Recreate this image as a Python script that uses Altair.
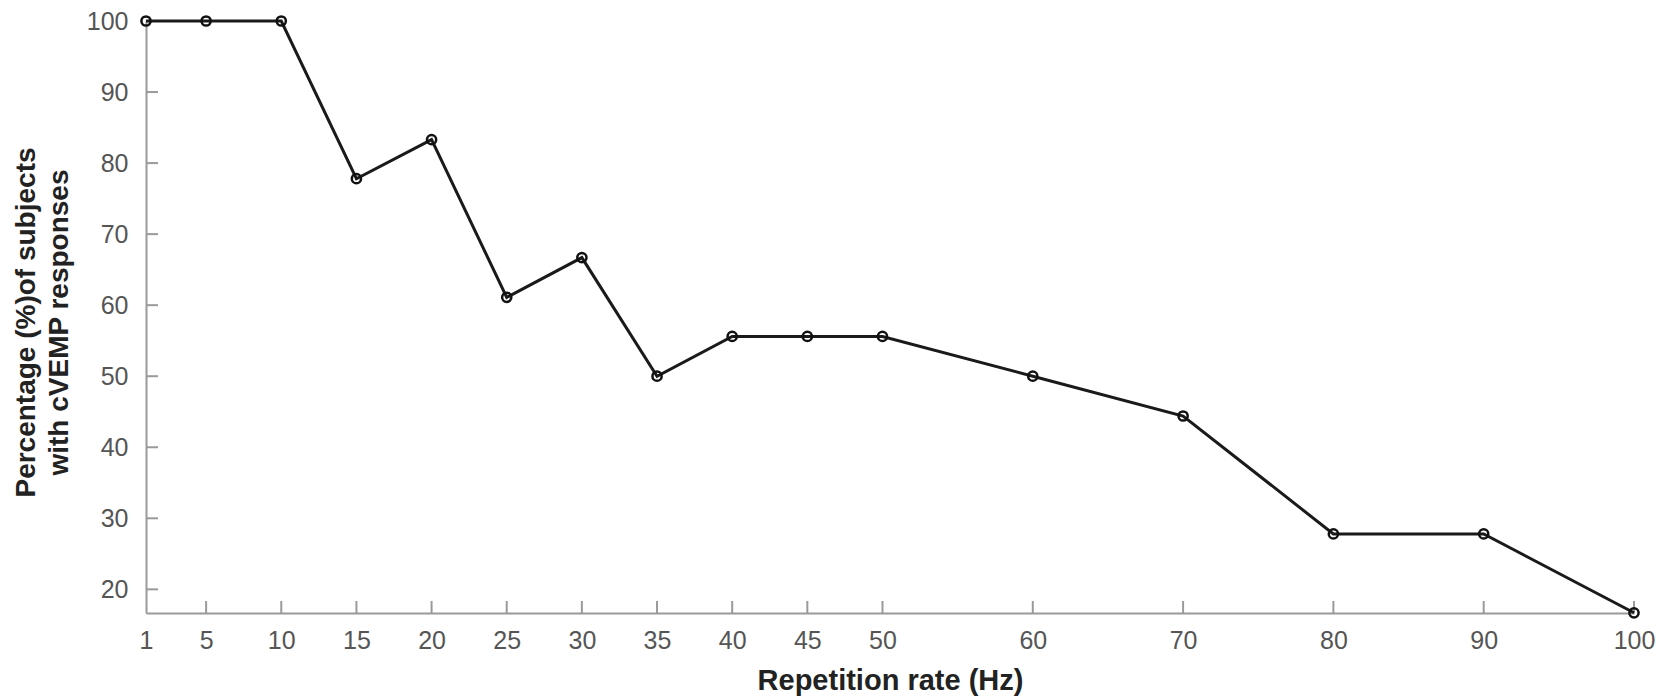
import altair as alt
import pandas as pd

rates = [1, 5, 10, 15, 20, 25, 30, 35, 40, 45, 50, 60, 70, 80, 90, 100]
percent = [100, 100, 100, 77.8, 83.3, 61.1, 66.7, 50.0, 55.6, 55.6, 55.6, 50.0, 44.4, 27.8, 27.8, 16.7]
x_ticks = [1, 5, 10, 15, 20, 25, 30, 35, 40, 45, 50, 60, 70, 80, 90, 100]
y_ticks = [20, 30, 40, 50, 60, 70, 80, 90, 100]

W, H = 1488, 592
FONT = "Liberation Sans"

df = pd.DataFrame({"rate": rates, "pct": percent})
xt = pd.DataFrame({"t": x_ticks[1:]})
yt = pd.DataFrame({"t": y_ticks[:-1]})

xscale = alt.Scale(domain=[1, 100], nice=False, zero=False)
yscale = alt.Scale(domain=[16.67, 100], nice=False, zero=False)

xaxis = alt.Axis(
    values=x_ticks, ticks=False, tickSize=0, grid=False, domainColor="#9a9a9a", domainWidth=2,
    labelFont=FONT, labelFontSize=25, labelColor="#555555", labelPadding=15,
    title="Repetition rate (Hz)", titleFont=FONT, titleFontSize=29, titleFontWeight="bold",
    titleColor="#222222", titleBaseline="alphabetic", titleY=76, labelFlush=False,
)
yaxis = alt.Axis(
    values=y_ticks, ticks=False, tickSize=0, grid=False, domainColor="#9a9a9a", domainWidth=2,
    labelFont=FONT, labelFontSize=25, labelColor="#555555", labelPadding=18,
    title=["Percentage (%)of subjects", "with cVEMP responses"], titleFont=FONT,
    titleFontSize=28, titleFontWeight="bold", titleColor="#222222", titleAngle=-90,
    titleBaseline="alphabetic", titleAlign="center", titleX=-112, titleY=H / 2 + 5,
    titleLineHeight=33, labelFlush=False,
)

base = alt.Chart(df)
line = base.mark_line(color="#1a1a1a", strokeWidth=3).encode(
    x=alt.X("rate:Q", scale=xscale, axis=xaxis),
    y=alt.Y("pct:Q", scale=yscale, axis=yaxis),
)
pts = base.mark_point(filled=False, color="#111111", size=85, strokeWidth=2.5, opacity=1).encode(
    x=alt.X("rate:Q", scale=xscale),
    y=alt.Y("pct:Q", scale=yscale),
)
xticks = alt.Chart(xt).mark_rule(color="#9a9a9a", strokeWidth=2).encode(
    x=alt.X("t:Q", scale=xscale), y=alt.value(H), y2=alt.value(H - 12)
)
yticks = alt.Chart(yt).mark_rule(color="#9a9a9a", strokeWidth=2).encode(
    y=alt.Y("t:Q", scale=yscale), x=alt.value(0), x2=alt.value(12)
)

chart = (
    alt.layer(xticks, yticks, line, pts)
    .properties(
        width=W, height=H,
        autosize=alt.AutoSizeParams(type="none"),
        padding={"left": 146, "top": 21, "right": 35, "bottom": 85},
        background="white",
    )
    .configure_view(stroke=None)
)

chart.save("out.html", embed_options={"renderer": "svg", "actions": False})
